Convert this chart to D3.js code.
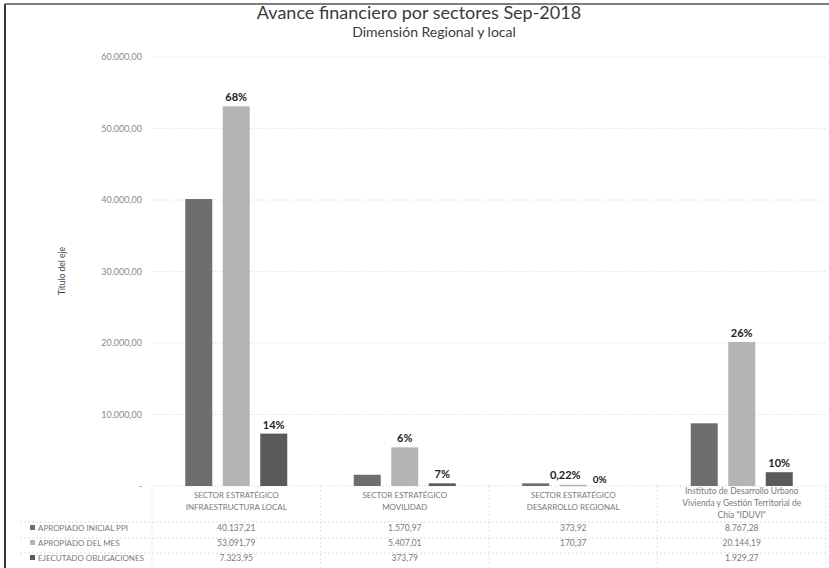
<!DOCTYPE html>
<html><head><meta charset="utf-8">
<script src="https://cdn.jsdelivr.net/npm/d3@7"></script>
<style>body{margin:0;background:#fff}svg{display:block}text{font-family:Lato,"Open Sans",sans-serif}</style>
</head><body><svg id="c" width="829" height="568"></svg>
<script>
const categories = [
  ["SECTOR ESTRATÉGICO","INFRAESTRUCTURA LOCAL"],
  ["SECTOR ESTRATÉGICO","MOVILIDAD"],
  ["SECTOR ESTRATÉGICO","DESARROLLO REGIONAL"],
  ["Instituto de Desarrollo Urbano","Vivienda y Gestión Territorial de","Chía \"IDUVI\""]
];
const seriesNames = ["APROPIADO INICIAL PPI","APROPIADO DEL MES","EJECUTADO OBLIGACIONES"];
const inicial = [40137.21, 1570.97, 373.92, 8767.28];
const delMes = [53091.79, 5407.01, 170.37, 20144.19];
const ejecutado = [7323.95, 373.79, null, 1929.27];
const tableText = [
  ["40.137,21","1.570,97","373,92","8.767,28"],
  ["53.091,79","5.407,01","170,37","20.144,19"],
  ["7.323,95","373,79","","1.929,27"]
];
const pctMes = ["68%","6%","0,22%","26%"];
const pctEjec = ["14%","7%","0%","10%"];
const yTicks = [0,10000,20000,30000,40000,50000,60000];
const yTickLabels = ["-","10.000,00","20.000,00","30.000,00","40.000,00","50.000,00","60.000,00"];
const colors = ["#6e6e6e","#b4b4b4","#5a5a5a"];

const svg = d3.select("#c");
const series = [inicial, delMes, ejecutado];
const keys = categories.map((c,i)=>i);
const x = d3.scaleBand().domain(keys).range([152,826]);
const xi = d3.scaleBand().domain([0,1,2]).range([x.bandwidth()/2-51, x.bandwidth()/2+51]).paddingInner(0.28);
const y = d3.scaleLinear().domain([0,60000]).range([486,57]);

// frame
svg.append("line").attr("x1",5).attr("x2",5).attr("y1",4).attr("y2",568).attr("stroke","#333").attr("stroke-width",2);
svg.append("line").attr("x1",5).attr("x2",829).attr("y1",4).attr("y2",4).attr("stroke","#555").attr("stroke-width",1.5);

// gridlines
svg.append("g").selectAll("line").data(yTicks).join("line")
  .attr("x1",152).attr("x2",826).attr("y1",d=>y(d)).attr("y2",d=>y(d))
  .attr("stroke","#d4d4d4").attr("stroke-dasharray","1,2");

// y axis labels
const yAxis = d3.axisLeft(y).tickValues(yTicks).tickFormat((d,i)=>yTickLabels[i]).tickSize(0).tickPadding(0);
const ga = svg.append("g").attr("transform","translate(142,0)").call(yAxis);
ga.select(".domain").remove();
ga.selectAll("text").attr("fill","#8a8a8a").style("font-size","9px").style("font-family","Lato");

svg.append("text").attr("transform","translate(65,271) rotate(-90)").attr("text-anchor","middle")
  .attr("fill","#444").style("font-size","8.5px").text("Título del eje");

// titles
svg.append("text").attr("x",419).attr("y",19).attr("text-anchor","middle").attr("fill","#3a3a3a").style("font-size","18px").text("Avance financiero por sectores Sep-2018");
svg.append("text").attr("x",434).attr("y",37).attr("text-anchor","middle").attr("fill","#3a3a3a").style("font-size","14px").text("Dimensión Regional y local");

// bars
const g = svg.append("g");
series.forEach((s,si)=>{
  g.append("g").selectAll("rect").data(keys.filter(k=>s[k]!=null)).join("rect")
    .attr("x",k=>x(k)+xi(si)).attr("width",xi.bandwidth())
    .attr("y",k=>y(s[k])).attr("height",k=>Math.max(1.5,y(0)-y(s[k])))
    .attr("fill",colors[si]);
});
// labels
g.append("g").selectAll("text").data(keys).join("text")
  .attr("x",k=>x(k)+xi(1)+xi.bandwidth()/2 + (k===2?-8:0)).attr("y",k=>y(delMes[k])-5 + (k===2?-1:0))
  .attr("text-anchor","middle").style("font-size","11px").style("font-weight","bold").attr("fill","#222")
  .text(k=>pctMes[k]);
g.append("g").selectAll("text").data(keys).join("text")
  .attr("x",k=>x(k)+xi(2)+xi.bandwidth()/2 + (k===2?-11:0)).attr("y",k=>y(ejecutado[k]||0)-5 + (k===2?2:0))
  .attr("text-anchor","middle").style("font-size",k=>k===2?"10px":"11px").style("font-weight","bold").attr("fill","#222")
  .text(k=>pctEjec[k]);

// category labels
const cl = svg.append("g");
keys.forEach(k=>{
  const lines = categories[k];
  const t = cl.append("text").attr("x",x(k)+x.bandwidth()/2).attr("y",lines.length>2?494:498)
    .attr("text-anchor","middle").attr("fill","#7a7a7a").style("font-size",k===3?"8.5px":"8px");
  lines.forEach((ln,i)=>t.append("tspan").attr("x",x(k)+x.bandwidth()/2).attr("dy",i?12:0).text(ln));
});

// data table
const rowY = [531,546,561];
const tg = svg.append("g");
tg.selectAll("line.h").data([522,538,553]).join("line").attr("class","h")
  .attr("x1",20).attr("x2",826).attr("y1",d=>d).attr("y2",d=>d).attr("stroke","#dcdcdc").attr("stroke-dasharray","2,2");
tg.selectAll("line.v").data([152].concat(keys.map(k=>x(k)+x.bandwidth()))).join("line").attr("class","v")
  .attr("x1",d=>d).attr("x2",d=>d).attr("y1",486).attr("y2",568).attr("stroke","#e4e4e4").attr("stroke-dasharray","2,2");
seriesNames.forEach((n,si)=>{
  tg.append("rect").attr("x",30).attr("y",rowY[si]-6).attr("width",5).attr("height",5).attr("fill",colors[si]);
  tg.append("text").attr("x",38).attr("y",rowY[si]).attr("fill","#7a7a7a").style("font-size","8px").text(n);
  keys.forEach(k=>{
    tg.append("text").attr("x",x(k)+x.bandwidth()/2).attr("y",rowY[si]).attr("text-anchor","middle")
      .attr("fill","#7a7a7a").style("font-size","8.5px").text(tableText[si][k]);
  });
});
</script></body></html>
